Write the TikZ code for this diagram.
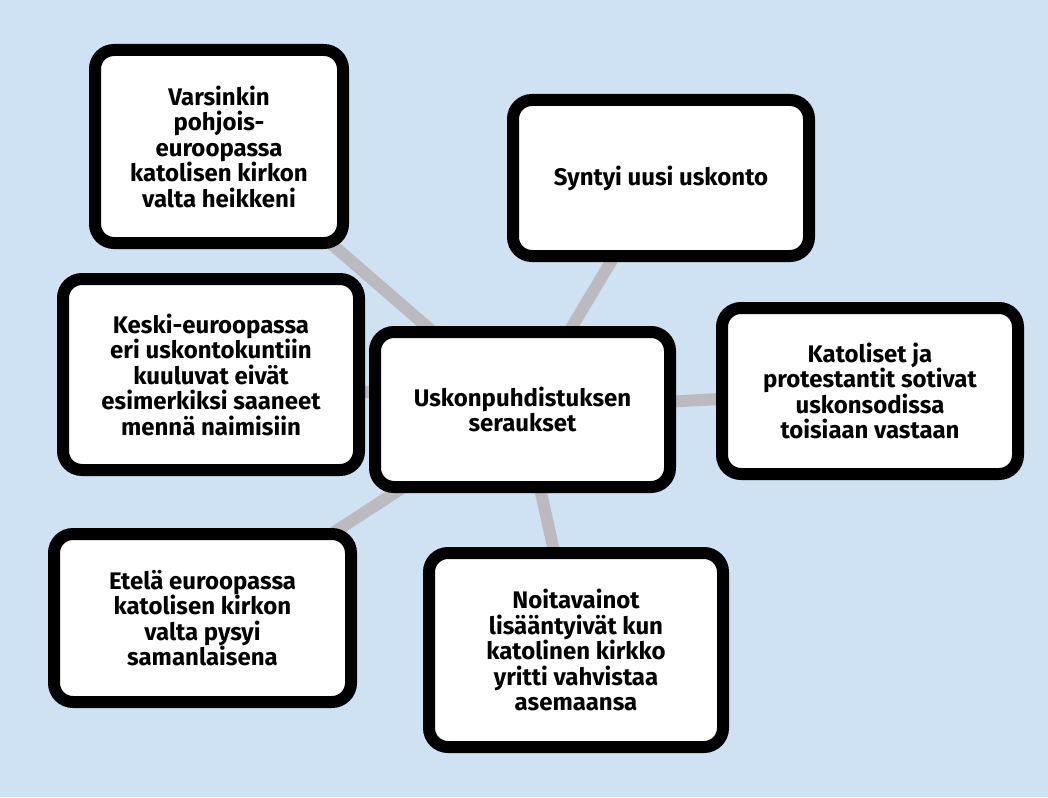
\documentclass[tikz,border=0pt]{standalone}
\usepackage{fontspec}
\setmainfont{Fira Sans}
\usepackage{xcolor}
\usetikzlibrary{backgrounds}
\definecolor{skyblue}{RGB}{207,226,243}
\definecolor{linkgray}{RGB}{186,186,191}

\begin{document}
\begin{tikzpicture}[x=1pt, y=-1pt, font=\bfseries\fontsize{24}{25.5}\selectfont,
    box/.style={draw=black, fill=white, line width=12pt, rounded corners=19pt, align=center, inner sep=0pt}]
    \useasboundingbox (0,0) rectangle (1048,797);
    \foreach \x/\y/\w/\h/\name/\txt in {219/146.5/248/193/north/{Varsinkin\\pohjois-\\euroopassa\\katolisen kirkon\\valta heikkeni},
        661/178/296/156/new/{Syntyi uusi uskonto},
        211/374.5/296/191/central/{Keski-euroopassa\\eri uskontokuntiin\\kuuluvat eivät\\esimerkiksi saaneet\\mennä naimisiin},
        522.5/409.5/295/155/main/{Uskonpuhdistuksen\\seraukset},
        870/391/296/166/war/{Katoliset ja\\protestantit sotivat\\uskonsodissa\\toisiaan vastaan},
        202.5/618/297/168/south/{Etelä euroopassa\\katolisen kirkon\\valta pysyi\\samanlaisena},
        576/650/294/194/witch/{Noitavainot\\lisääntyivät kun\\katolinen kirkko\\yritti vahvistaa\\asemaansa}}{\node[box, minimum width=\w pt, minimum height=\h pt] (\name) at (\x,\y) {\txt};}
    \begin{pgfonlayer}{background}
        \fill[skyblue] (0,0) rectangle (1048,797);
        \foreach \name in {north,new,central,war,south,witch}{\draw[linkgray, line width=12pt] (main.center) -- (\name.center);}
    \end{pgfonlayer}
\end{tikzpicture}
\end{document}
